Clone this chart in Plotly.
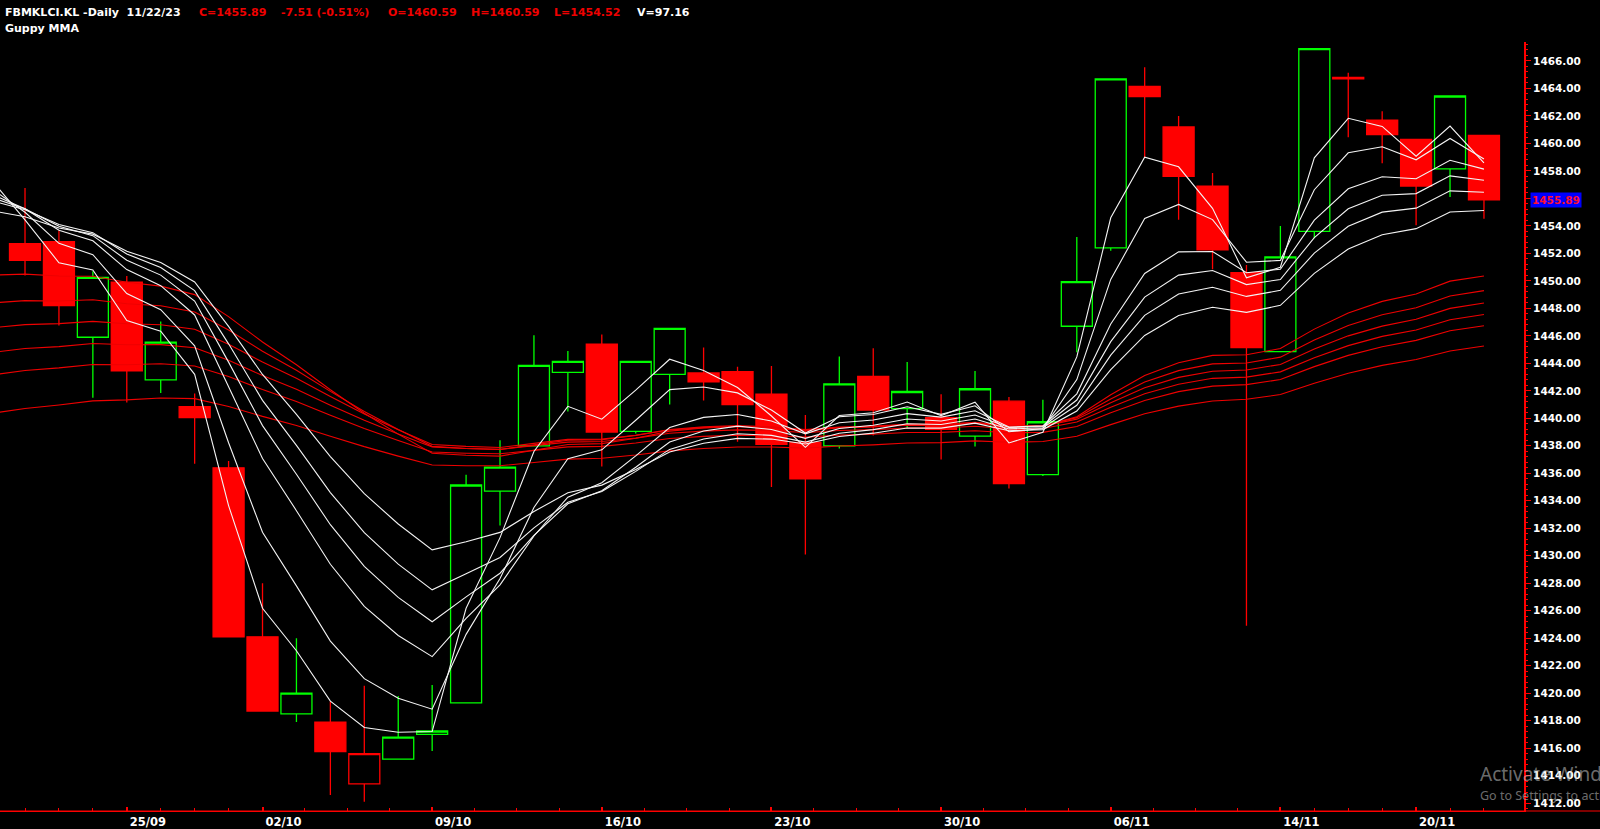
import plotly.graph_objects as go

# ---------------- data ----------------
dates = ["20/09", "21/09", "22/09", "25/09", "26/09", "27/09", "29/09",
         "02/10", "03/10", "04/10", "05/10", "06/10", "09/10", "10/10",
         "11/10", "12/10", "13/10", "16/10", "17/10", "18/10", "19/10",
         "20/10", "23/10", "24/10", "25/10", "26/10", "27/10", "30/10",
         "31/10", "01/11", "02/11", "03/11", "06/11", "07/11", "08/11",
         "09/11", "10/11", "14/11", "15/11", "16/11", "17/11", "20/11",
         "21/11", "22/11"]

opens = [1452.70, 1452.85, 1445.90, 1449.90, 1442.80, 1440.85, 1436.40, 1424.10,
         1418.50, 1417.90, 1413.40, 1415.20, 1417.00, 1419.30, 1434.70, 1438.00,
         1443.35, 1445.40, 1439.05, 1443.20, 1443.30, 1443.40, 1441.75, 1438.25,
         1438.00, 1443.05, 1440.70, 1440.05, 1438.70, 1441.25, 1435.90, 1446.70,
         1452.40, 1464.15, 1461.20, 1456.90, 1450.60, 1444.85, 1453.60, 1464.80,
         1461.70, 1460.30, 1458.15, 1460.59]
highs = [1456.75, 1453.65, 1450.70, 1450.35, 1447.05, 1441.80, 1436.90, 1428.00,
         1424.00, 1419.40, 1420.55, 1419.80, 1420.60, 1435.90, 1438.40, 1446.05,
         1444.90, 1446.10, 1444.15, 1446.55, 1445.15, 1443.75, 1443.80, 1440.25,
         1444.50, 1445.10, 1444.10, 1441.75, 1443.45, 1441.55, 1441.35, 1453.20,
         1464.70, 1465.55, 1462.00, 1457.85, 1451.15, 1454.00, 1466.90, 1465.15,
         1462.35, 1460.30, 1463.45, 1460.59]
lows = [1450.40, 1446.75, 1441.50, 1441.15, 1441.85, 1436.70, 1424.10, 1418.70,
        1417.90, 1412.60, 1412.10, 1415.20, 1415.80, 1419.30, 1432.20, 1438.00,
        1440.50, 1436.50, 1438.90, 1441.00, 1441.30, 1438.30, 1435.00, 1430.10,
        1437.80, 1438.75, 1439.30, 1437.00, 1437.95, 1434.90, 1435.80, 1444.80,
        1452.20, 1459.00, 1454.45, 1450.85, 1424.90, 1444.85, 1453.10, 1460.45,
        1458.55, 1454.05, 1456.10, 1454.52]
closes = [1451.50, 1448.20, 1450.25, 1443.45, 1445.55, 1440.05, 1424.10, 1418.70,
          1420.00, 1415.75, 1415.60, 1416.80, 1417.25, 1435.15, 1436.45, 1443.85,
          1444.15, 1439.00, 1444.15, 1446.55, 1442.65, 1441.00, 1438.10, 1435.60,
          1442.50, 1440.60, 1441.95, 1439.20, 1442.15, 1435.25, 1439.75, 1449.95,
          1464.70, 1463.40, 1457.60, 1452.25, 1445.15, 1451.75, 1466.90, 1464.70,
          1460.65, 1456.90, 1463.45, 1455.89]

# Guppy MMA values (first value is the session just before the visible window)
ema3 = [1457.38, 1454.44, 1451.32, 1450.79, 1447.12, 1446.34, 1443.20, 1433.65, 1426.18,
        1423.09, 1419.42, 1417.51, 1417.16, 1417.21, 1426.18, 1431.32, 1437.59, 1440.87,
        1439.94, 1442.05, 1444.30, 1443.48, 1442.24, 1440.17, 1437.89, 1440.20, 1440.40,
        1441.18, 1440.19, 1441.17, 1438.21, 1438.98, 1444.47, 1454.59, 1459.00, 1458.30,
        1455.28, 1450.22, 1450.99, 1458.95, 1461.83, 1461.24, 1459.07, 1461.26, 1458.58]
ema5 = [1456.73, 1454.99, 1452.73, 1451.90, 1449.08, 1447.90, 1445.28, 1438.22, 1431.71,
        1427.81, 1423.79, 1421.06, 1419.64, 1418.84, 1424.28, 1428.34, 1433.51, 1437.06,
        1437.71, 1439.86, 1442.09, 1442.28, 1441.85, 1440.60, 1438.93, 1440.12, 1440.28,
        1440.84, 1440.29, 1440.91, 1439.02, 1439.26, 1442.82, 1450.11, 1454.54, 1455.56,
        1454.46, 1451.36, 1451.49, 1456.63, 1459.32, 1459.76, 1458.81, 1460.36, 1458.87]
ema8 = [1456.32, 1455.25, 1453.68, 1452.92, 1450.82, 1449.65, 1447.52, 1442.32, 1437.07,
        1433.28, 1429.38, 1426.32, 1424.20, 1422.66, 1425.44, 1427.89, 1431.44, 1434.26,
        1435.31, 1437.27, 1439.33, 1440.07, 1440.28, 1439.80, 1438.87, 1439.68, 1439.88,
        1440.34, 1440.09, 1440.55, 1439.37, 1439.45, 1441.78, 1446.87, 1450.54, 1452.11,
        1452.14, 1450.59, 1450.85, 1454.42, 1456.70, 1457.58, 1457.43, 1458.77, 1458.13]
ema10 = [1456.08, 1455.25, 1453.97, 1453.29, 1451.50, 1450.42, 1448.53, 1444.09, 1439.47,
         1435.93, 1432.26, 1429.23, 1426.97, 1425.20, 1427.01, 1428.73, 1431.48, 1433.78,
         1434.73, 1436.44, 1438.28, 1439.08, 1439.43, 1439.19, 1438.54, 1439.26, 1439.50,
         1439.95, 1439.81, 1440.24, 1439.33, 1439.41, 1441.33, 1445.58, 1448.82, 1450.42,
         1450.75, 1449.73, 1450.10, 1453.15, 1455.25, 1456.23, 1456.35, 1457.64, 1457.32]
ema12 = [1455.84, 1455.17, 1454.10, 1453.51, 1451.96, 1450.97, 1449.29, 1445.42, 1441.31,
         1438.03, 1434.60, 1431.68, 1429.39, 1427.52, 1428.69, 1429.88, 1432.03, 1433.89,
         1434.68, 1436.14, 1437.74, 1438.50, 1438.88, 1438.76, 1438.27, 1438.92, 1439.18,
         1439.61, 1439.55, 1439.95, 1439.23, 1439.31, 1440.95, 1444.60, 1447.49, 1449.05,
         1449.54, 1448.87, 1449.31, 1452.02, 1453.97, 1455.00, 1455.29, 1456.55, 1456.45]
ema15 = [1455.11, 1454.66, 1453.85, 1453.40, 1452.16, 1451.33, 1449.92, 1446.69, 1443.19,
         1440.29, 1437.22, 1434.52, 1432.31, 1430.43, 1431.02, 1431.70, 1433.22, 1434.59,
         1435.14, 1436.27, 1437.55, 1438.19, 1438.54, 1438.49, 1438.13, 1438.68, 1438.92,
         1439.30, 1439.29, 1439.65, 1439.10, 1439.18, 1440.53, 1443.55, 1446.03, 1447.48,
         1448.08, 1447.71, 1448.22, 1450.55, 1452.32, 1453.36, 1453.80, 1455.01, 1455.12]
ema30 = [1450.42, 1450.49, 1450.35, 1450.34, 1449.90, 1449.62, 1449.00, 1447.40, 1445.55,
         1443.90, 1442.08, 1440.37, 1438.85, 1437.46, 1437.31, 1437.25, 1437.68, 1438.10,
         1438.16, 1438.55, 1439.07, 1439.30, 1439.41, 1439.33, 1439.09, 1439.31, 1439.39,
         1439.56, 1439.54, 1439.71, 1439.42, 1439.44, 1440.12, 1441.71, 1443.11, 1444.05,
         1444.58, 1444.62, 1445.08, 1446.49, 1447.67, 1448.51, 1449.05, 1449.98, 1450.36]
ema35 = [1448.39, 1448.56, 1448.54, 1448.63, 1448.34, 1448.19, 1447.74, 1446.42, 1444.88,
         1443.50, 1441.96, 1440.50, 1439.18, 1437.96, 1437.80, 1437.73, 1438.07, 1438.41,
         1438.44, 1438.76, 1439.19, 1439.38, 1439.47, 1439.39, 1439.18, 1439.36, 1439.43,
         1439.57, 1439.55, 1439.69, 1439.45, 1439.46, 1440.05, 1441.41, 1442.64, 1443.47,
         1443.96, 1444.02, 1444.45, 1445.70, 1446.75, 1447.53, 1448.05, 1448.90, 1449.29]
ema40 = [1446.58, 1446.82, 1446.89, 1447.05, 1446.88, 1446.81, 1446.48, 1445.39, 1444.09,
         1442.91, 1441.59, 1440.32, 1439.17, 1438.10, 1437.96, 1437.88, 1438.18, 1438.47,
         1438.49, 1438.77, 1439.15, 1439.32, 1439.40, 1439.34, 1439.15, 1439.32, 1439.38,
         1439.50, 1439.49, 1439.62, 1439.41, 1439.42, 1439.94, 1441.14, 1442.23, 1442.98,
         1443.43, 1443.52, 1443.92, 1445.04, 1446.00, 1446.71, 1447.21, 1448.00, 1448.39]
ema45 = [1444.79, 1445.08, 1445.22, 1445.44, 1445.35, 1445.36, 1445.13, 1444.22, 1443.11,
         1442.11, 1440.96, 1439.86, 1438.86, 1437.92, 1437.80, 1437.74, 1438.01, 1438.27,
         1438.31, 1438.56, 1438.91, 1439.07, 1439.16, 1439.11, 1438.96, 1439.11, 1439.18,
         1439.30, 1439.30, 1439.42, 1439.24, 1439.26, 1439.73, 1440.81, 1441.79, 1442.48,
         1442.91, 1443.00, 1443.38, 1444.41, 1445.29, 1445.96, 1446.43, 1447.17, 1447.55]
ema50 = [1443.15, 1443.48, 1443.67, 1443.92, 1443.90, 1443.97, 1443.81, 1443.04, 1442.09,
         1441.22, 1440.22, 1439.26, 1438.38, 1437.55, 1437.46, 1437.42, 1437.67, 1437.92,
         1437.96, 1438.20, 1438.53, 1438.69, 1438.78, 1438.75, 1438.63, 1438.78, 1438.85,
         1438.97, 1438.98, 1439.10, 1438.95, 1438.98, 1439.41, 1440.40, 1441.30, 1441.94,
         1442.34, 1442.45, 1442.82, 1443.76, 1444.58, 1445.21, 1445.67, 1446.37, 1446.74]
ema60 = [1440.36, 1440.72, 1440.97, 1441.27, 1441.34, 1441.48, 1441.43, 1440.86, 1440.14,
         1439.48, 1438.70, 1437.94, 1437.25, 1436.60, 1436.55, 1436.55, 1436.79, 1437.03,
         1437.10, 1437.33, 1437.63, 1437.80, 1437.91, 1437.91, 1437.83, 1437.99, 1438.07,
         1438.20, 1438.23, 1438.36, 1438.26, 1438.31, 1438.69, 1439.54, 1440.33, 1440.89,
         1441.26, 1441.39, 1441.73, 1442.55, 1443.28, 1443.85, 1444.28, 1444.90, 1445.26]

tick_labels = ["25/09", "02/10", "09/10", "16/10", "23/10", "30/10", "06/11", "14/11", "20/11"]
last_price = 1455.89

# ---------------- figure ----------------
n = len(closes)
xs = list(range(n))
xs_ma = list(range(-1, n))
tick_idx = [dates.index(t) for t in tick_labels]

short_emas = [ema3, ema5, ema8, ema10, ema12, ema15]
long_emas = [ema30, ema35, ema40, ema45, ema50, ema60]
for s in short_emas + long_emas:
    assert len(s) == n + 1

# hollow red candle: close above open but below previous close
special = [i for i in range(1, n) if closes[i] > opens[i] and closes[i] < closes[i - 1]]
normal = [i for i in range(n) if i not in special]

RED = "#ff0000"
GREEN = "#00ff00"

fig = go.Figure()

def pick(arr, idx):
    return [arr[i] for i in idx]

fig.add_trace(go.Candlestick(
    x=pick(xs, normal), open=pick(opens, normal), high=pick(highs, normal),
    low=pick(lows, normal), close=pick(closes, normal),
    increasing=dict(line=dict(color=GREEN, width=1.3), fillcolor="#000000"),
    decreasing=dict(line=dict(color=RED, width=1.3), fillcolor=RED),
    whiskerwidth=0, showlegend=False, hoverinfo="skip"))
if special:
    fig.add_trace(go.Candlestick(
        x=pick(xs, special), open=pick(opens, special), high=pick(highs, special),
        low=pick(lows, special), close=pick(closes, special),
        increasing=dict(line=dict(color=RED, width=1.3), fillcolor="#000000"),
        decreasing=dict(line=dict(color=RED, width=1.3), fillcolor=RED),
        whiskerwidth=0, showlegend=False, hoverinfo="skip"))

for s in long_emas:
    fig.add_trace(go.Scatter(x=xs_ma, y=s, mode="lines",
                             line=dict(color="#ee0000", width=1.1),
                             showlegend=False, hoverinfo="skip"))
for s in short_emas:
    fig.add_trace(go.Scatter(x=xs_ma, y=s, mode="lines",
                             line=dict(color="#f4f4f4", width=1.1),
                             showlegend=False, hoverinfo="skip"))

# minor x ticks: quarters between the weekly labels, daily at the ends
minor_x = [tick_idx[0] - 3, tick_idx[0] - 2, tick_idx[0] - 1]
for a, b in zip(tick_idx[:-1], tick_idx[1:]):
    minor_x += [a + (b - a) * k / 4 for k in (1, 2, 3)]
minor_x += [tick_idx[-1] + 1, tick_idx[-1] + 2]

W, H = 1600, 829
ML, MR, MT, MB = 0, 76, 42, 16
PW = W - ML - MR
PH = H - MT - MB

def px(xp):
    return (xp - ML) / PW

def py(yp):
    return (H - MB - yp) / PH

FONT = "DejaVu Sans"

fig.update_layout(
    width=W, height=H,
    margin=dict(l=ML, r=MR, t=MT, b=MB, pad=0),
    paper_bgcolor="#000000", plot_bgcolor="#000000",
    boxgap=0.086, boxgroupgap=0,
    showlegend=False,
    xaxis=dict(
        range=[-0.737, 44.18], rangeslider=dict(visible=False),
        tickmode="array", tickvals=tick_idx, ticktext=tick_labels,
        ticks="inside", ticklen=4, tickwidth=2, tickcolor=RED,
        tickfont=dict(family=FONT, size=11.5, color="#ffffff", weight="bold"),
        ticklabelshift=21, ticklabelstandoff=0,
        minor=dict(tickvals=minor_x, ticks="inside", ticklen=3, tickwidth=1, tickcolor=RED),
        showline=True, linecolor=RED, linewidth=1,
        showgrid=False, zeroline=False, fixedrange=True,
    ),
    yaxis=dict(
        side="right", range=[1411.43, 1467.38],
        tickmode="linear", tick0=1412, dtick=2, tickformat=".2f",
        ticks="outside", ticklen=5, tickwidth=1, tickcolor=RED,
        tickfont=dict(family=FONT, size=10.5, color="#ffffff", weight="bold"),
        minor=dict(dtick=0.4, ticks="outside", ticklen=2, tickwidth=1, tickcolor=RED),
        showline=True, linecolor=RED, linewidth=2,
        showgrid=False, zeroline=False, fixedrange=True,
    ),
)

# bottom axis line continues under the price scale
fig.add_shape(type="line", xref="paper", yref="paper", x0=0, x1=W / PW, y0=0, y1=0,
              line=dict(color=RED, width=1))

annots = []
hdr_y1, hdr_y2 = py(12.6), py(28.7)
header = [
    ("FBMKLCI.KL -Daily\u00a0\u00a011/22/23", 4, "#ffffff"),
    ("C=1455.89", 198, "#f00000"),
    ("-7.51 (-0.51%)", 280, "#f00000"),
    ("O=1460.59", 387, "#f00000"),
    ("H=1460.59", 470, "#f00000"),
    ("L=1454.52", 553, "#f00000"),
    ("V=97.16", 636, "#ffffff"),
]
for txt, x0, col in header:
    annots.append(dict(text=txt, x=px(x0), y=hdr_y1, xref="paper", yref="paper",
                       xanchor="left", yanchor="middle", showarrow=False,
                       font=dict(family=FONT, size=11, color=col, weight="bold"),
                       borderpad=0))
annots.append(dict(text="Guppy MMA", x=px(4), y=hdr_y2, xref="paper", yref="paper",
                   xanchor="left", yanchor="middle", showarrow=False,
                   font=dict(family=FONT, size=11, color="#ffffff", weight="bold"),
                   borderpad=0))
# last price tag on the scale
annots.append(dict(text=f"{last_price:.2f}", x=px(1530), y=last_price, xref="paper", yref="y",
                   xanchor="left", yanchor="middle", showarrow=False,
                   font=dict(family=FONT, size=10.5, color="#ff1030", weight="bold"),
                   bgcolor="#0000ff", borderpad=1))
# OS watermark seen in the screenshot
annots.append(dict(text="Activate Windows", x=px(1478), y=py(776), xref="paper", yref="paper",
                   xanchor="left", yanchor="middle", showarrow=False,
                   font=dict(family="Noto Sans", size=19, color="rgba(200,200,200,0.55)")))
annots.append(dict(text="Go to Settings to activate Windows.", x=px(1478), y=py(797),
                   xref="paper", yref="paper", xanchor="left", yanchor="middle",
                   showarrow=False,
                   font=dict(family="Noto Sans", size=12.5, color="rgba(200,200,200,0.55)")))
fig.update_layout(annotations=annots)

fig.write_html("out.html",
               config={"displayModeBar": False, "staticPlot": True},
               post_script="document.body.style.margin='0';document.body.style.background='#000';"
                           "document.body.style.overflow='hidden';")
